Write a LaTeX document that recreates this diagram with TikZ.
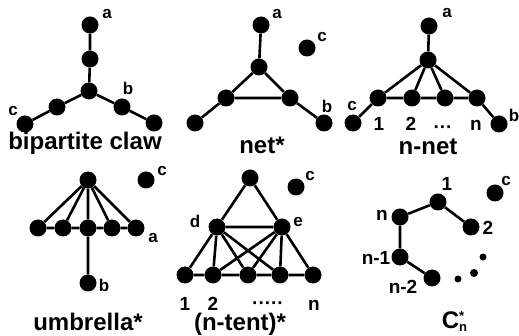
\documentclass[tikz,border=0pt]{standalone}
\usepackage{fontspec}
\setmainfont{Liberation Sans}
\begin{document}
\begin{tikzpicture}[x=1pt,y=-1pt,
  v/.style={circle,fill=black,inner sep=0pt,minimum size=17pt},
  sd/.style={circle,fill=black,inner sep=0pt,minimum size=7pt},
  ed/.style={line width=2.6pt},
  lab/.style={font=\bfseries\fontsize{17}{17}\selectfont,inner sep=0pt},
  num/.style={font=\bfseries\fontsize{19}{19}\selectfont,inner sep=0pt},
  ttl/.style={font=\bfseries\fontsize{24}{24}\selectfont,inner sep=0pt}]
\useasboundingbox (0,0) rectangle (519,336);
% ---------- bipartite claw
\node[v] (a1) at (90,25) {};
\node[v] (p1) at (90,59) {};
\node[v] (o1) at (89,91) {};
\node[v] (b1) at (122,107) {};
\node[v] (bb1) at (154,123) {};
\node[v] (c1) at (57,107) {};
\node[v] (cc1) at (25,124) {};
\draw[ed] (a1)--(p1)--(o1)--(b1)--(bb1) (o1)--(c1)--(cc1);
\node[lab] (la1) at (107,14) {a};
\node[lab] (lb1) at (128,88) {b};
\node[lab] (lc1) at (13,111) {c};
\node[ttl] (t1) at (85,143) {bipartite claw};
% ---------- net*
\node[v] (a2) at (261,25) {};
\node[v] (o2) at (259,67) {};
\node[v] (l2) at (226,98) {};
\node[v] (r2) at (290,98) {};
\node[v] (ll2) at (195,123) {};
\node[v] (rr2) at (324,123) {};
\node[v] (c2) at (307,48) {};
\draw[ed] (a2)--(o2)--(l2)--(r2)--(o2) (l2)--(ll2) (r2)--(rr2);
\node[lab] (la2) at (277,14) {a};
\node[lab] (lb2) at (327,106) {b};
\node[lab] (lc2) at (322,37) {c};
\node[ttl] (t2) at (262,145) {net*};
% ---------- n-net
\node[v] (a3) at (429,26) {};
\node[v] (o3) at (428,60) {};
\node[v] (x31) at (378,98) {};
\node[v] (x32) at (412,98) {};
\node[v] (x33) at (445,98) {};
\node[v] (x34) at (477,98) {};
\node[v] (c3) at (353,123) {};
\node[v] (b3) at (499,124) {};
\draw[ed] (a3)--(o3) (o3)--(x31) (o3)--(x32) (o3)--(x33) (o3)--(x34)
  (x31)--(x32)--(x33)--(x34) (x31)--(c3) (x34)--(b3);
\node[lab] (la3) at (447,13) {a};
\node[lab] (lb3) at (514,115) {b};
\node[lab] (lc3) at (352,106) {c};
\node[num,anchor=base] (n31) at (379,131) {1};
\node[num,anchor=base] (n32) at (411,131) {2};
\node[num,anchor=base] (n33) at (443,134) {···};
\node[num,anchor=base] (n34) at (476,131) {n};
\node[ttl] (t3) at (428,147) {n-net};
% ---------- umbrella*
\node[v] (o4) at (88,180) {};
\node[v] (x41) at (38,228) {};
\node[v] (x42) at (63,228) {};
\node[v] (x43) at (88,228) {};
\node[v] (x44) at (112,228) {};
\node[v] (x45) at (136,228) {};
\node[v] (b4) at (88,283) {};
\node[v] (c4) at (146,180) {};
\draw[ed] (o4)--(x41) (o4)--(x42) (o4)--(x43) (o4)--(x44) (o4)--(x45)
  (x41)--(x42)--(x43)--(x44)--(x45) (x43)--(b4);
\node[lab] (la4) at (153,238) {a};
\node[lab] (lb4) at (104,285) {b};
\node[lab] (lc4) at (162,171) {c};
\node[ttl] (t4) at (88,322) {umbrella*};
% ---------- (n-tent)*
\node[v] (o5) at (250,178) {};
\node[v] (d5) at (217,227) {};
\node[v] (e5) at (282,227) {};
\node[v] (x51) at (185,275) {};
\node[v] (x52) at (213,275) {};
\node[v] (x53) at (248,275) {};
\node[v] (x54) at (280,275) {};
\node[v] (x55) at (313,275) {};
\node[v] (c5) at (296,187) {};
\draw[ed] (o5)--(d5)--(e5)--(o5)
  (d5)--(x51) (d5)--(x52) (d5)--(x53) (d5)--(x54)
  (e5)--(x52) (e5)--(x53) (e5)--(x54) (e5)--(x55)
  (x51)--(x52)--(x53)--(x54)--(x55);
\node[lab] (ld5) at (195,221) {d};
\node[lab] (le5) at (298,222) {e};
\node[lab] (lc5) at (310,176) {c};
\node[num,anchor=base] (n51) at (185,311) {1};
\node[num,anchor=base] (n52) at (213,311) {2};
\node[num,anchor=base] (n53) at (268,309) {·····};
\node[num,anchor=base] (n55) at (314,311) {n};
\node[ttl] (t5) at (240,324) {(n-tent)*};
% ---------- C_n*
\node[v] (y1) at (438,202) {};
\node[v] (yn) at (400,217) {};
\node[v] (y2) at (471,227) {};
\node[v] (yn1) at (400,257) {};
\node[v] (yn2) at (432,278) {};
\node[sd] (s1) at (458,279) {};
\node[sd,minimum size=8pt] (s2) at (474,273) {};
\node[sd] (s3) at (483,257) {};
\node[v] (c6) at (495,193) {};
\draw[ed] (yn)--(y1)--(y2) (yn)--(yn1)--(yn2);
\node[num] (l61) at (447,184) {1};
\node[num] (l6n) at (382,215) {n};
\node[num] (l62) at (488,228) {2};
\node[num] (l6n1) at (376,258) {n-1};
\node[num] (l6n2) at (403,287) {n-2};
\node[lab] (lc6) at (506,181) {c};
\node[ttl] (t6) at (453,322) {C\rlap{\raisebox{-3pt}{\fontsize{13}{13}\selectfont n}}\raisebox{8pt}{\fontsize{13}{13}\selectfont *}};
\end{tikzpicture}
\end{document}
